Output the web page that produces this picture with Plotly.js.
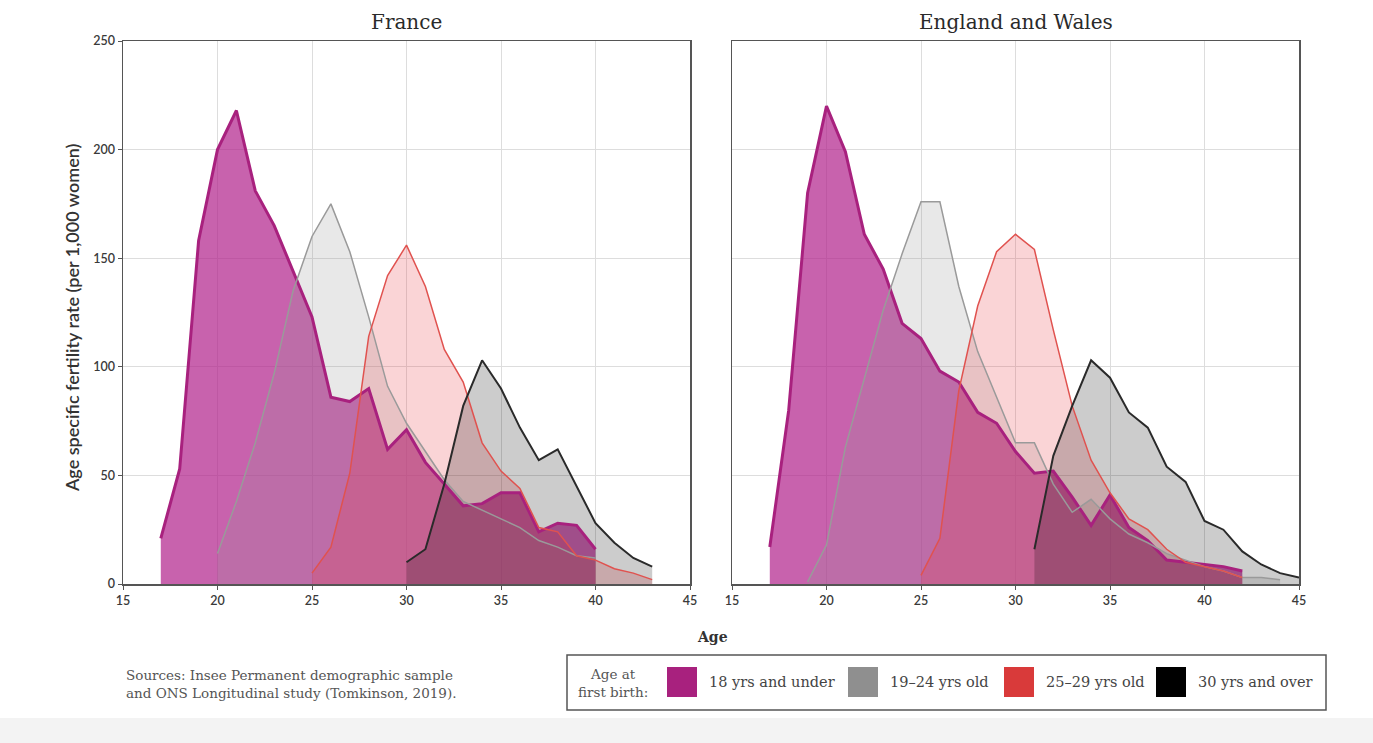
<!DOCTYPE html>
<html>
<head>
<meta charset="utf-8">
<script src="https://cdn.plot.ly/plotly-3.0.1.min.js"></script>
<style>html,body{margin:0;padding:0;background:#fff;}#chart{width:1373px;height:743px;}</style>
</head>
<body>
<div id="chart"></div>
<script>
// ---- Data ----
const panelTitles = ["France", "England and Wales"];
const groupLabels = ["18 yrs and under", "19–24 yrs old", "25–29 yrs old", "30 yrs and over"];
const xTickVals = [15, 20, 25, 30, 35, 40, 45];
const yTickVals = [0, 50, 100, 150, 200, 250];

// France
const frAgeU18 = [17,18,19,20,21,22,23,24,25,26,27,28,29,30,31,32,33,34,35,36,37,38,39,40];
const frU18 = [21,53,158,200,218,181,165,144,123,86,84,90,62,71,56,46,36,37,42,42,24,28,27,16];
const frAge1924 = [20,21,22,23,24,25,26,27,28,29,30,31,32,33,34,35,36,37,38,39,40];
const fr1924 = [14,38,65,97,135,160,175,153,123,91,74,61,48,38,34,30,26,20,17,13,12];
const frAge2529 = [25,26,27,28,29,30,31,32,33,34,35,36,37,38,39,40,41,42,43];
const fr2529 = [5,17,51,114,142,156,137,108,93,65,52,44,26,24,13,11,7,5,2];
const frAge30 = [30,31,32,33,34,35,36,37,38,39,40,41,42,43];
const fr30 = [10,16,46,82,103,90,72,57,62,45,28,19,12,8];

// England and Wales
const ewAgeU18 = [17,18,19,20,21,22,23,24,25,26,27,28,29,30,31,32,33,34,35,36,37,38,39,40,41,42];
const ewU18 = [17,80,180,220,199,161,145,120,113,98,93,79,74,61,51,52,40,27,41,26,20,11,10,9,8,6];
const ewAge1924 = [19,20,21,22,23,24,25,26,27,28,29,30,31,32,33,34,35,36,37,38,39,40,41,42,43,44];
const ew1924 = [1,18,63,94,126,152,176,176,137,107,86,65,65,46,33,39,30,23,19,14,11,8,6,3,3,2];
const ewAge2529 = [25,26,27,28,29,30,31,32,33,34,35,36,37,38,39,40,41,42];
const ew2529 = [4,21,89,128,153,161,154,117,82,57,42,30,25,16,10,8,6,3];
const ewAge30 = [31,32,33,34,35,36,37,38,39,40,41,42,43,44,45];
const ew30 = [16,59,82,103,95,79,72,54,47,29,25,15,9,5,3];

// ---- Styles ----
const lineColors = ["#a8217e", "#9a9a9a", "#e0524f", "#2a2a2a"];
const fillColors = ["rgba(176,32,138,0.70)", "rgba(150,150,150,0.22)", "rgba(230,60,70,0.22)", "rgba(0,0,0,0.20)"];
const lineWidths = [3, 1.5, 1.5, 2];
const legendColors = ["#a8217e", "#8f8f8f", "#d93a3a", "#000000"];

const panels = [
  {xs: [frAgeU18, frAge1924, frAge2529, frAge30], ys: [frU18, fr1924, fr2529, fr30], xa: "x", ya: "y"},
  {xs: [ewAgeU18, ewAge1924, ewAge2529, ewAge30], ys: [ewU18, ew1924, ew2529, ew30], xa: "x2", ya: "y2"}
];

const traces = [];
panels.forEach(p => {
  for (let i = 0; i < 4; i++) {
    traces.push({type: "scatter", mode: "lines", x: p.xs[i], y: p.ys[i], xaxis: p.xa, yaxis: p.ya,
      fill: "tozeroy", fillcolor: fillColors[i], line: {width: 0, color: fillColors[i]},
      hoverinfo: "skip", showlegend: false});
  }
});
panels.forEach(p => {
  for (let i = 0; i < 4; i++) {
    traces.push({type: "scatter", mode: "lines", x: p.xs[i], y: p.ys[i], xaxis: p.xa, yaxis: p.ya,
      line: {width: lineWidths[i], color: lineColors[i]}, name: groupLabels[i],
      hoverinfo: "skip", showlegend: false});
  }
});

// pixel -> paper helpers (plot area: x 123..1299, y 41..584)
const L = 123, R = 1299, T = 41, B = 584;
const px = v => (v - L) / (R - L);
const py = v => (B - v) / (B - T);

const axisBase = {
  showline: true, mirror: true, linecolor: "#555", linewidth: 1.5,
  showgrid: true, gridcolor: "#dddddd", gridwidth: 1, zeroline: false,
  ticks: "outside", ticklen: 4, tickcolor: "#555", tickwidth: 1,
  tickfont: {family: "Lato, sans-serif", size: 12.5, color: "#3a3a3a", weight: 600}
};

const shapes = [];
const annotations = [];

// panel titles
const titleCenters = [406.5, 1015.5];
panelTitles.forEach((t, i) => {
  annotations.push({xref: "paper", yref: "paper", x: px(titleCenters[i]), y: py(22), text: t, showarrow: false,
    xanchor: "center", yanchor: "middle", font: {family: "DejaVu Serif, serif", size: 20, color: "#2a2a2a"}});
});

// axis titles
annotations.push({xref: "paper", yref: "paper", x: px(712), y: py(637), text: "<b>Age</b>", showarrow: false,
  xanchor: "center", yanchor: "middle", font: {family: "DejaVu Serif, serif", size: 14, color: "#333"}});
annotations.push({xref: "paper", yref: "paper", x: px(72), y: py(318), text: "Age specific fertility rate (per 1,000 women)",
  textangle: -90, showarrow: false, xanchor: "center", yanchor: "middle",
  font: {family: "Lato, sans-serif", size: 18, color: "#333", weight: 600}});

// sources
annotations.push({xref: "paper", yref: "paper", x: px(124), y: py(684), text: "Sources: Insee Permanent demographic sample<br>and ONS Longitudinal study (Tomkinson, 2019).",
  showarrow: false, xanchor: "left", yanchor: "middle", align: "left",
  font: {family: "DejaVu Serif, serif", size: 13.5, color: "#555"}});

// bottom grey band
shapes.push({type: "rect", xref: "paper", yref: "paper", x0: px(0), x1: px(1373), y0: py(718), y1: py(743),
  fillcolor: "#f3f3f3", line: {width: 0}, layer: "below"});

// legend box
shapes.push({type: "rect", xref: "paper", yref: "paper", x0: px(567), x1: px(1326), y0: py(655), y1: py(710),
  fillcolor: "#ffffff", line: {color: "#555", width: 1.5}});
annotations.push({xref: "paper", yref: "paper", x: px(613), y: py(683), text: "Age at<br>first birth:", showarrow: false,
  xanchor: "center", yanchor: "middle", align: "center",
  font: {family: "DejaVu Serif, serif", size: 13.5, color: "#555"}});
const sqLeft = [667, 848, 1004, 1156];
groupLabels.forEach((lab, i) => {
  shapes.push({type: "rect", xref: "paper", yref: "paper", x0: px(sqLeft[i]), x1: px(sqLeft[i] + 30), y0: py(667), y1: py(697),
    fillcolor: legendColors[i], line: {width: 0}});
  annotations.push({xref: "paper", yref: "paper", x: px(sqLeft[i] + 40), y: py(682), text: lab, showarrow: false,
    xanchor: "left", yanchor: "middle", font: {family: "DejaVu Serif, serif", size: 14.5, color: "#444"}});
});

const layout = {
  width: 1373, height: 743,
  margin: {l: 123, r: 74, t: 41, b: 159, pad: 0},
  paper_bgcolor: "#ffffff", plot_bgcolor: "#ffffff",
  showlegend: false,
  xaxis: Object.assign({}, axisBase, {domain: [0, (690 - L) / (R - L)], range: [15, 45], tickvals: xTickVals, anchor: "y"}),
  yaxis: Object.assign({}, axisBase, {range: [0, 250], tickvals: yTickVals, anchor: "x"}),
  xaxis2: Object.assign({}, axisBase, {domain: [(732 - L) / (R - L), 1], range: [15, 45], tickvals: xTickVals, anchor: "y2"}),
  yaxis2: Object.assign({}, axisBase, {range: [0, 250], tickvals: yTickVals, anchor: "x2", showticklabels: false, ticks: ""}),
  shapes: shapes,
  annotations: annotations
};

Plotly.newPlot("chart", traces, layout, {displayModeBar: false, staticPlot: true});
</script>
</body>
</html>
